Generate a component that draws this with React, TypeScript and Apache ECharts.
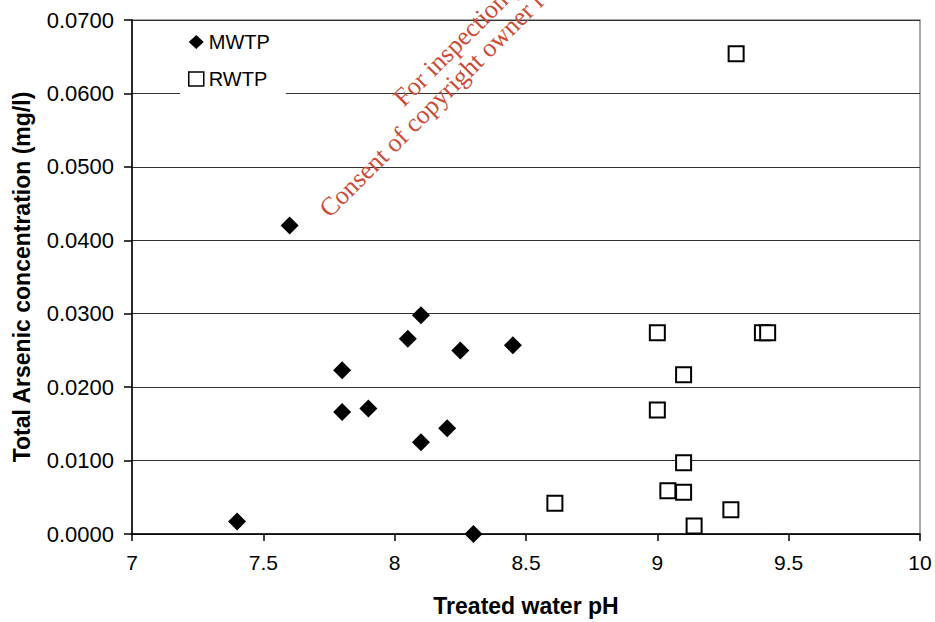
import React, { useEffect, useRef } from "react";
import * as echarts from "echarts";

const mwtpPH = [7.6, 7.4, 7.8, 7.8, 7.9, 8.05, 8.1, 8.1, 8.2, 8.25, 8.45, 8.3];
const mwtpAs = [0.042, 0.0017, 0.0223, 0.0166, 0.0171, 0.0266, 0.0298, 0.0125, 0.0144, 0.025, 0.0257, 0.0];

const rwtpPH = [9.0, 9.4, 9.42, 9.1, 9.0, 9.1, 9.04, 9.1, 9.28, 9.14, 8.61, 9.3];
const rwtpAs = [0.0274, 0.0274, 0.0274, 0.0217, 0.0169, 0.0097, 0.0059, 0.0057, 0.0033, 0.0011, 0.0042, 0.0654];

const seriesNames = ["MWTP", "RWTP"];
const xTitle = "Treated water pH";
const yTitle = "Total Arsenic concentration (mg/l)";
const watermark = ["For inspection purposes only.", "Consent of copyright owner required for any other use."];

const FONT = "'Liberation Sans', Arial, sans-serif";
const WM_FONT = "26px 'Liberation Serif', 'Times New Roman', serif";

export default function App() {
  const ref = useRef<HTMLDivElement>(null);
  useEffect(() => {
    if (!ref.current) return;
    const chart = echarts.init(ref.current, undefined, { renderer: "svg" });
    const mwtp = mwtpPH.map((x, i) => [x, mwtpAs[i]]);
    const rwtp = rwtpPH.map((x, i) => [x, rwtpAs[i]]);
    chart.setOption({
      animation: false,
      backgroundColor: "#ffffff",
      textStyle: { fontFamily: FONT },
      grid: {
        left: 132,
        right: 15,
        top: 20,
        bottom: 87,
        show: true,
        borderColor: "#8a8a8a",
        borderWidth: 1.5,
        backgroundColor: "transparent",
      },
      legend: {
        data: [
          { name: seriesNames[0] },
          { name: seriesNames[1], itemStyle: { borderWidth: 1.5 } },
        ],
        orient: "vertical",
        left: 180,
        top: 22,
        padding: [10, 16, 10, 8],
        itemGap: 17,
        itemWidth: 15,
        itemHeight: 14,
        itemTextGap: 4,
        backgroundColor: "#ffffff",
        textStyle: { fontSize: 20, color: "#000", fontFamily: FONT },
      },
      xAxis: {
        type: "value",
        min: 7,
        max: 10,
        interval: 0.5,
        name: xTitle,
        nameLocation: "middle",
        nameGap: 60,
        nameTextStyle: { fontSize: 23, fontWeight: "bold", color: "#000", fontFamily: FONT },
        axisLine: { show: true, onZero: false, lineStyle: { color: "#000", width: 1.5 } },
        axisTick: { show: true, inside: false, length: 7, lineStyle: { color: "#000", width: 1.5 } },
        axisLabel: { fontSize: 21, color: "#000", margin: 18, fontFamily: FONT },
        splitLine: { show: false },
      },
      yAxis: {
        type: "value",
        min: 0,
        max: 0.07,
        interval: 0.01,
        name: yTitle,
        nameLocation: "middle",
        nameGap: 99,
        nameTextStyle: { fontSize: 23, fontWeight: "bold", color: "#000", fontFamily: FONT },
        axisLine: { show: true, onZero: false, lineStyle: { color: "#000", width: 1.5 } },
        axisTick: { show: true, inside: false, length: 8, lineStyle: { color: "#000", width: 1.5 } },
        axisLabel: {
          fontSize: 22,
          color: "#000",
          margin: 18,
          fontFamily: FONT,
          formatter: (v: number) => v.toFixed(4),
        },
        splitLine: { show: true, lineStyle: { color: "#333", width: 1.2 } },
      },
      series: [
        {
          name: seriesNames[0],
          type: "scatter",
          data: mwtp,
          symbol: "diamond",
          symbolSize: 18,
          itemStyle: { color: "#000", opacity: 1 },
          z: 3,
        },
        {
          name: seriesNames[1],
          type: "scatter",
          data: rwtp,
          symbol: "rect",
          symbolSize: 15,
          itemStyle: { color: "#fff", borderColor: "#000", borderWidth: 2, opacity: 1 },
          z: 3,
        },
      ],
      graphic: [
        {
          type: "text",
          x: 407,
          y: 111,
          rotation: Math.PI / 4,
          z: 10,
          style: {
            text: watermark[0],
            font: WM_FONT,
            fill: "#cc4b37",
            align: "left",
            verticalAlign: "bottom",
          },
        },
        {
          type: "text",
          x: 333,
          y: 222,
          rotation: Math.PI / 4,
          z: 10,
          style: {
            text: watermark[1],
            font: WM_FONT,
            fill: "#cc4b37",
            align: "left",
            verticalAlign: "bottom",
          },
        },
      ],
    });
    return () => chart.dispose();
  }, []);
  return (
    <div
      ref={ref}
      style={{ position: "fixed", left: 0, top: 0, width: 935, height: 622 }}
    />
  );
}
